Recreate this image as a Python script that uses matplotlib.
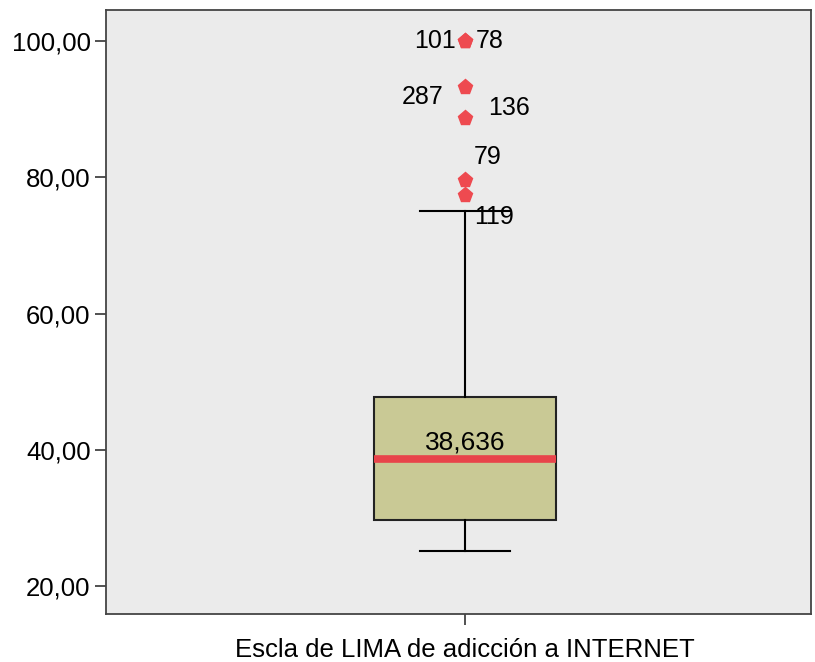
import matplotlib
matplotlib.use("Agg")
import matplotlib.pyplot as plt
from matplotlib.ticker import FuncFormatter

plt.rcParams['font.family'] = ['Liberation Sans', 'DejaVu Sans']

category = "Escla de LIMA de adicción a INTERNET"
q1, median, q3 = 29.66, 38.636, 47.72
whislo, whishi = 25.1, 75.05
outlier_values = [100.0, 100.0, 93.25, 88.7, 79.6, 77.4]
outlier_ids = ["101", "78", "287", "136", "79", "119"]
yticks = [20, 40, 60, 80, 100]

# label offsets (pixels) relative to each outlier point
label_offsets = {"101": (-30, 0), "78": (25, 0), "287": (-42, -10),
                 "136": (44, 10), "79": (23, 23), "119": (29, -22)}

fig = plt.figure(figsize=(8.15, 6.62), dpi=100)
ax = fig.add_axes([106/815, 1 - 614/662, 705/815, 604/662])
ax.set_facecolor('#EBEBEB')

stats = [dict(med=median, q1=q1, q3=q3, whislo=whislo, whishi=whishi,
              fliers=[], label=category)]
ax.bxp(stats, positions=[1], widths=0.5, patch_artist=True, showfliers=False,
       boxprops=dict(facecolor='#C9C995', edgecolor='#222222', linewidth=1.5),
       medianprops=dict(color='#E8444A', linewidth=5.5, solid_capstyle='butt'),
       whiskerprops=dict(color='#000000', linewidth=1.5),
       capprops=dict(color='#000000', linewidth=1.5), capwidths=0.247)

ax.plot([1] * len(outlier_values), outlier_values, linestyle='none', marker='p',
        markersize=11, color='#EE4A50', markeredgecolor='#EE4A50', zorder=5)

for v, lab in zip(outlier_values, outlier_ids):
    ax.annotate(lab, (1, v), xytext=label_offsets[lab], textcoords='offset pixels',
                ha='center', va='center', fontsize=18, color='#000000')

ax.annotate(f"{median:.3f}".replace('.', ','), (1, median), xytext=(0, 17),
            textcoords='offset pixels', ha='center', va='center', fontsize=19,
            color='#000000')

ax.set_xlim(0.014, 1.951)
ax.set_ylim(15.9, 104.55)
ax.set_yticks(yticks)
ax.yaxis.set_major_formatter(FuncFormatter(lambda v, p: f"{v:.2f}".replace('.', ',')))
ax.set_xticks([1])
ax.set_xticklabels([category])
ax.tick_params(axis='both', direction='out', length=8, width=1.2, color='#333333',
               labelsize=18.5, labelcolor='#000000')
ax.tick_params(axis='x', pad=9)
ax.tick_params(axis='y', pad=3)
for s in ax.spines.values():
    s.set_color('#444444')
    s.set_linewidth(1.3)

fig.savefig('out.png', dpi=100, facecolor='white')
